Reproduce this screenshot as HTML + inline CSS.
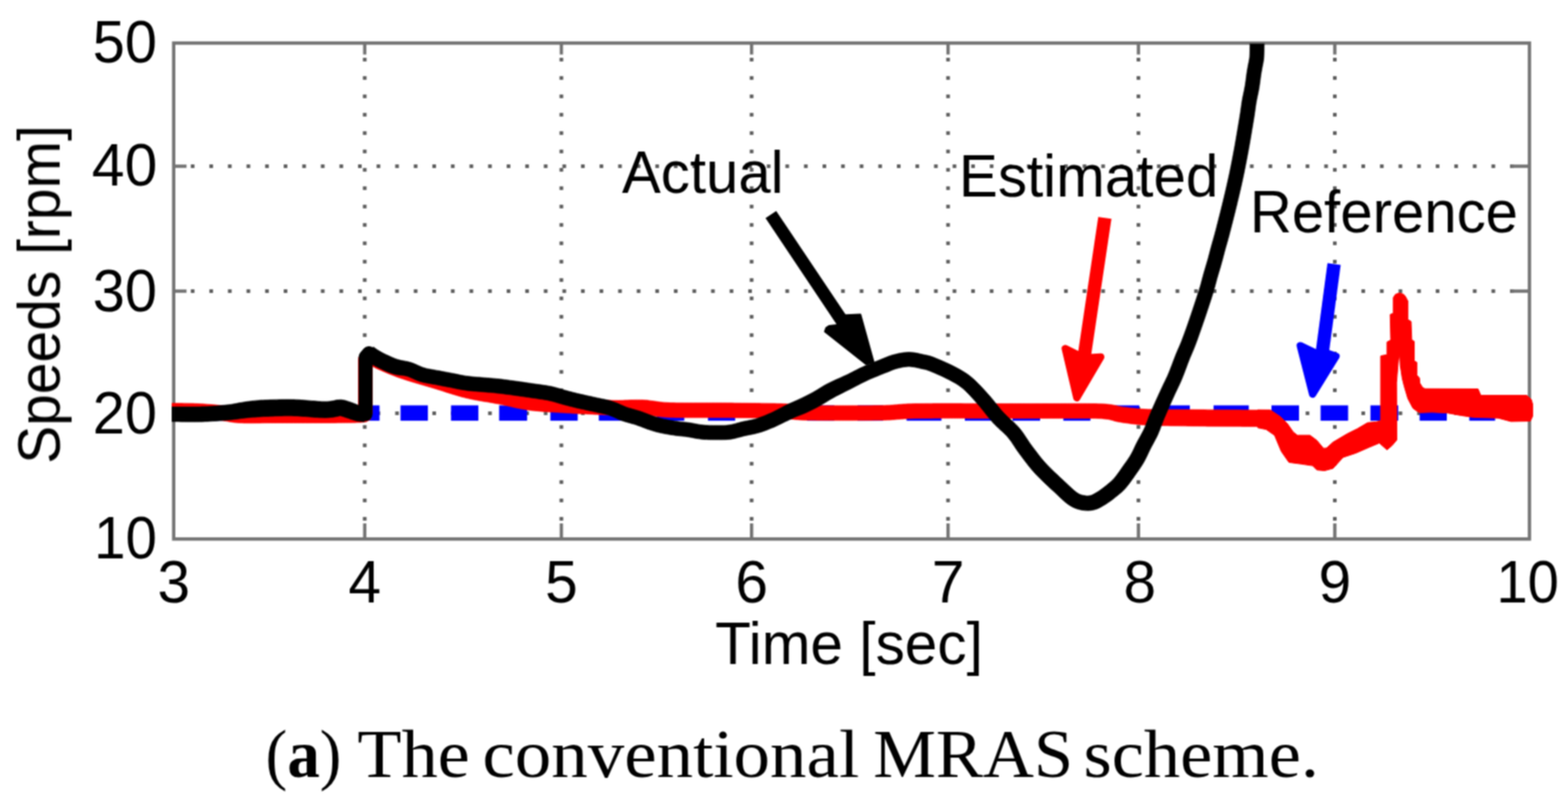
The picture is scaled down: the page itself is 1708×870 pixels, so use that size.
<!DOCTYPE html>
<html><head><meta charset="utf-8"><title>Speeds - conventional MRAS</title>
<style>html,body{margin:0;padding:0;background:#fff;}body{width:1708px;height:870px;overflow:hidden;}svg{display:block;}.sans{font-family:"Liberation Sans",Arial,sans-serif;}.serif{font-family:"Liberation Serif","Times New Roman",serif;}</style>
</head><body>
<svg width="1708" height="870" viewBox="0 0 1708 870">
<rect x="0" y="0" width="1708" height="870" fill="#fff"/>
<defs><clipPath id="ax"><rect x="187" y="47.4" width="1483" height="540"/></clipPath><filter id="soft" x="-2%" y="-2%" width="104%" height="104%" color-interpolation-filters="sRGB"><feConvolveMatrix order="3" kernelMatrix="1 2 1 2 4 2 1 2 1" divisor="16" edgeMode="duplicate"/></filter></defs>
<g filter="url(#soft)">
<g fill="#5f5f5f">
<rect x="395.3" y="62.9" width="4" height="4"/>
<rect x="395.3" y="82.9" width="4" height="4"/>
<rect x="395.3" y="102.9" width="4" height="4"/>
<rect x="395.3" y="122.9" width="4" height="4"/>
<rect x="395.3" y="142.9" width="4" height="4"/>
<rect x="395.3" y="162.9" width="4" height="4"/>
<rect x="395.3" y="182.9" width="4" height="4"/>
<rect x="395.3" y="202.9" width="4" height="4"/>
<rect x="395.3" y="222.9" width="4" height="4"/>
<rect x="395.3" y="242.9" width="4" height="4"/>
<rect x="395.3" y="262.9" width="4" height="4"/>
<rect x="395.3" y="282.9" width="4" height="4"/>
<rect x="395.3" y="302.9" width="4" height="4"/>
<rect x="395.3" y="322.9" width="4" height="4"/>
<rect x="395.3" y="342.9" width="4" height="4"/>
<rect x="395.3" y="362.9" width="4" height="4"/>
<rect x="395.3" y="382.9" width="4" height="4"/>
<rect x="395.3" y="402.9" width="4" height="4"/>
<rect x="395.3" y="422.9" width="4" height="4"/>
<rect x="395.3" y="442.9" width="4" height="4"/>
<rect x="395.3" y="462.9" width="4" height="4"/>
<rect x="395.3" y="482.9" width="4" height="4"/>
<rect x="395.3" y="502.9" width="4" height="4"/>
<rect x="395.3" y="522.9" width="4" height="4"/>
<rect x="395.3" y="542.9" width="4" height="4"/>
<rect x="395.3" y="562.9" width="4" height="4"/>
<rect x="609.5" y="62.9" width="4" height="4"/>
<rect x="609.5" y="82.9" width="4" height="4"/>
<rect x="609.5" y="102.9" width="4" height="4"/>
<rect x="609.5" y="122.9" width="4" height="4"/>
<rect x="609.5" y="142.9" width="4" height="4"/>
<rect x="609.5" y="162.9" width="4" height="4"/>
<rect x="609.5" y="182.9" width="4" height="4"/>
<rect x="609.5" y="202.9" width="4" height="4"/>
<rect x="609.5" y="222.9" width="4" height="4"/>
<rect x="609.5" y="242.9" width="4" height="4"/>
<rect x="609.5" y="262.9" width="4" height="4"/>
<rect x="609.5" y="282.9" width="4" height="4"/>
<rect x="609.5" y="302.9" width="4" height="4"/>
<rect x="609.5" y="322.9" width="4" height="4"/>
<rect x="609.5" y="342.9" width="4" height="4"/>
<rect x="609.5" y="362.9" width="4" height="4"/>
<rect x="609.5" y="382.9" width="4" height="4"/>
<rect x="609.5" y="402.9" width="4" height="4"/>
<rect x="609.5" y="422.9" width="4" height="4"/>
<rect x="609.5" y="442.9" width="4" height="4"/>
<rect x="609.5" y="462.9" width="4" height="4"/>
<rect x="609.5" y="482.9" width="4" height="4"/>
<rect x="609.5" y="502.9" width="4" height="4"/>
<rect x="609.5" y="522.9" width="4" height="4"/>
<rect x="609.5" y="542.9" width="4" height="4"/>
<rect x="609.5" y="562.9" width="4" height="4"/>
<rect x="816.7" y="62.9" width="4" height="4"/>
<rect x="816.7" y="82.9" width="4" height="4"/>
<rect x="816.7" y="102.9" width="4" height="4"/>
<rect x="816.7" y="122.9" width="4" height="4"/>
<rect x="816.7" y="142.9" width="4" height="4"/>
<rect x="816.7" y="162.9" width="4" height="4"/>
<rect x="816.7" y="182.9" width="4" height="4"/>
<rect x="816.7" y="202.9" width="4" height="4"/>
<rect x="816.7" y="222.9" width="4" height="4"/>
<rect x="816.7" y="242.9" width="4" height="4"/>
<rect x="816.7" y="262.9" width="4" height="4"/>
<rect x="816.7" y="282.9" width="4" height="4"/>
<rect x="816.7" y="302.9" width="4" height="4"/>
<rect x="816.7" y="322.9" width="4" height="4"/>
<rect x="816.7" y="342.9" width="4" height="4"/>
<rect x="816.7" y="362.9" width="4" height="4"/>
<rect x="816.7" y="382.9" width="4" height="4"/>
<rect x="816.7" y="402.9" width="4" height="4"/>
<rect x="816.7" y="422.9" width="4" height="4"/>
<rect x="816.7" y="442.9" width="4" height="4"/>
<rect x="816.7" y="462.9" width="4" height="4"/>
<rect x="816.7" y="482.9" width="4" height="4"/>
<rect x="816.7" y="502.9" width="4" height="4"/>
<rect x="816.7" y="522.9" width="4" height="4"/>
<rect x="816.7" y="542.9" width="4" height="4"/>
<rect x="816.7" y="562.9" width="4" height="4"/>
<rect x="1030.7" y="62.9" width="4" height="4"/>
<rect x="1030.7" y="82.9" width="4" height="4"/>
<rect x="1030.7" y="102.9" width="4" height="4"/>
<rect x="1030.7" y="122.9" width="4" height="4"/>
<rect x="1030.7" y="142.9" width="4" height="4"/>
<rect x="1030.7" y="162.9" width="4" height="4"/>
<rect x="1030.7" y="182.9" width="4" height="4"/>
<rect x="1030.7" y="202.9" width="4" height="4"/>
<rect x="1030.7" y="222.9" width="4" height="4"/>
<rect x="1030.7" y="242.9" width="4" height="4"/>
<rect x="1030.7" y="262.9" width="4" height="4"/>
<rect x="1030.7" y="282.9" width="4" height="4"/>
<rect x="1030.7" y="302.9" width="4" height="4"/>
<rect x="1030.7" y="322.9" width="4" height="4"/>
<rect x="1030.7" y="342.9" width="4" height="4"/>
<rect x="1030.7" y="362.9" width="4" height="4"/>
<rect x="1030.7" y="382.9" width="4" height="4"/>
<rect x="1030.7" y="402.9" width="4" height="4"/>
<rect x="1030.7" y="422.9" width="4" height="4"/>
<rect x="1030.7" y="442.9" width="4" height="4"/>
<rect x="1030.7" y="462.9" width="4" height="4"/>
<rect x="1030.7" y="482.9" width="4" height="4"/>
<rect x="1030.7" y="502.9" width="4" height="4"/>
<rect x="1030.7" y="522.9" width="4" height="4"/>
<rect x="1030.7" y="542.9" width="4" height="4"/>
<rect x="1030.7" y="562.9" width="4" height="4"/>
<rect x="1238.1" y="62.9" width="4" height="4"/>
<rect x="1238.1" y="82.9" width="4" height="4"/>
<rect x="1238.1" y="102.9" width="4" height="4"/>
<rect x="1238.1" y="122.9" width="4" height="4"/>
<rect x="1238.1" y="142.9" width="4" height="4"/>
<rect x="1238.1" y="162.9" width="4" height="4"/>
<rect x="1238.1" y="182.9" width="4" height="4"/>
<rect x="1238.1" y="202.9" width="4" height="4"/>
<rect x="1238.1" y="222.9" width="4" height="4"/>
<rect x="1238.1" y="242.9" width="4" height="4"/>
<rect x="1238.1" y="262.9" width="4" height="4"/>
<rect x="1238.1" y="282.9" width="4" height="4"/>
<rect x="1238.1" y="302.9" width="4" height="4"/>
<rect x="1238.1" y="322.9" width="4" height="4"/>
<rect x="1238.1" y="342.9" width="4" height="4"/>
<rect x="1238.1" y="362.9" width="4" height="4"/>
<rect x="1238.1" y="382.9" width="4" height="4"/>
<rect x="1238.1" y="402.9" width="4" height="4"/>
<rect x="1238.1" y="422.9" width="4" height="4"/>
<rect x="1238.1" y="442.9" width="4" height="4"/>
<rect x="1238.1" y="462.9" width="4" height="4"/>
<rect x="1238.1" y="482.9" width="4" height="4"/>
<rect x="1238.1" y="502.9" width="4" height="4"/>
<rect x="1238.1" y="522.9" width="4" height="4"/>
<rect x="1238.1" y="542.9" width="4" height="4"/>
<rect x="1238.1" y="562.9" width="4" height="4"/>
<rect x="1452" y="62.9" width="4" height="4"/>
<rect x="1452" y="82.9" width="4" height="4"/>
<rect x="1452" y="102.9" width="4" height="4"/>
<rect x="1452" y="122.9" width="4" height="4"/>
<rect x="1452" y="142.9" width="4" height="4"/>
<rect x="1452" y="162.9" width="4" height="4"/>
<rect x="1452" y="182.9" width="4" height="4"/>
<rect x="1452" y="202.9" width="4" height="4"/>
<rect x="1452" y="222.9" width="4" height="4"/>
<rect x="1452" y="242.9" width="4" height="4"/>
<rect x="1452" y="262.9" width="4" height="4"/>
<rect x="1452" y="282.9" width="4" height="4"/>
<rect x="1452" y="302.9" width="4" height="4"/>
<rect x="1452" y="322.9" width="4" height="4"/>
<rect x="1452" y="342.9" width="4" height="4"/>
<rect x="1452" y="362.9" width="4" height="4"/>
<rect x="1452" y="382.9" width="4" height="4"/>
<rect x="1452" y="402.9" width="4" height="4"/>
<rect x="1452" y="422.9" width="4" height="4"/>
<rect x="1452" y="442.9" width="4" height="4"/>
<rect x="1452" y="462.9" width="4" height="4"/>
<rect x="1452" y="482.9" width="4" height="4"/>
<rect x="1452" y="502.9" width="4" height="4"/>
<rect x="1452" y="522.9" width="4" height="4"/>
<rect x="1452" y="542.9" width="4" height="4"/>
<rect x="1452" y="562.9" width="4" height="4"/>
<rect x="207.84" y="448" width="4" height="4"/>
<rect x="228.08" y="448" width="4" height="4"/>
<rect x="248.32" y="448" width="4" height="4"/>
<rect x="268.56" y="448" width="4" height="4"/>
<rect x="288.8" y="448" width="4" height="4"/>
<rect x="309.04" y="448" width="4" height="4"/>
<rect x="329.28" y="448" width="4" height="4"/>
<rect x="349.52" y="448" width="4" height="4"/>
<rect x="369.76" y="448" width="4" height="4"/>
<rect x="390" y="448" width="4" height="4"/>
<rect x="410.24" y="448" width="4" height="4"/>
<rect x="430.48" y="448" width="4" height="4"/>
<rect x="450.72" y="448" width="4" height="4"/>
<rect x="470.96" y="448" width="4" height="4"/>
<rect x="491.2" y="448" width="4" height="4"/>
<rect x="511.44" y="448" width="4" height="4"/>
<rect x="531.68" y="448" width="4" height="4"/>
<rect x="551.92" y="448" width="4" height="4"/>
<rect x="572.16" y="448" width="4" height="4"/>
<rect x="592.4" y="448" width="4" height="4"/>
<rect x="612.64" y="448" width="4" height="4"/>
<rect x="632.88" y="448" width="4" height="4"/>
<rect x="653.12" y="448" width="4" height="4"/>
<rect x="673.36" y="448" width="4" height="4"/>
<rect x="693.6" y="448" width="4" height="4"/>
<rect x="713.84" y="448" width="4" height="4"/>
<rect x="734.08" y="448" width="4" height="4"/>
<rect x="754.32" y="448" width="4" height="4"/>
<rect x="774.56" y="448" width="4" height="4"/>
<rect x="794.8" y="448" width="4" height="4"/>
<rect x="815.04" y="448" width="4" height="4"/>
<rect x="835.28" y="448" width="4" height="4"/>
<rect x="855.52" y="448" width="4" height="4"/>
<rect x="875.76" y="448" width="4" height="4"/>
<rect x="896" y="448" width="4" height="4"/>
<rect x="916.24" y="448" width="4" height="4"/>
<rect x="936.48" y="448" width="4" height="4"/>
<rect x="956.72" y="448" width="4" height="4"/>
<rect x="976.96" y="448" width="4" height="4"/>
<rect x="997.2" y="448" width="4" height="4"/>
<rect x="1017.44" y="448" width="4" height="4"/>
<rect x="1037.68" y="448" width="4" height="4"/>
<rect x="1057.92" y="448" width="4" height="4"/>
<rect x="1078.16" y="448" width="4" height="4"/>
<rect x="1098.4" y="448" width="4" height="4"/>
<rect x="1118.64" y="448" width="4" height="4"/>
<rect x="1138.88" y="448" width="4" height="4"/>
<rect x="1159.12" y="448" width="4" height="4"/>
<rect x="1179.36" y="448" width="4" height="4"/>
<rect x="1199.6" y="448" width="4" height="4"/>
<rect x="1219.84" y="448" width="4" height="4"/>
<rect x="1240.08" y="448" width="4" height="4"/>
<rect x="1260.32" y="448" width="4" height="4"/>
<rect x="1280.56" y="448" width="4" height="4"/>
<rect x="1300.8" y="448" width="4" height="4"/>
<rect x="1321.04" y="448" width="4" height="4"/>
<rect x="1341.28" y="448" width="4" height="4"/>
<rect x="1361.52" y="448" width="4" height="4"/>
<rect x="1381.76" y="448" width="4" height="4"/>
<rect x="1402" y="448" width="4" height="4"/>
<rect x="1422.24" y="448" width="4" height="4"/>
<rect x="1442.48" y="448" width="4" height="4"/>
<rect x="1462.72" y="448" width="4" height="4"/>
<rect x="1482.96" y="448" width="4" height="4"/>
<rect x="1503.2" y="448" width="4" height="4"/>
<rect x="1523.44" y="448" width="4" height="4"/>
<rect x="1543.68" y="448" width="4" height="4"/>
<rect x="1563.92" y="448" width="4" height="4"/>
<rect x="1584.16" y="448" width="4" height="4"/>
<rect x="1604.4" y="448" width="4" height="4"/>
<rect x="1624.64" y="448" width="4" height="4"/>
<rect x="1644.88" y="448" width="4" height="4"/>
<rect x="207.84" y="315" width="4" height="4"/>
<rect x="228.08" y="315" width="4" height="4"/>
<rect x="248.32" y="315" width="4" height="4"/>
<rect x="268.56" y="315" width="4" height="4"/>
<rect x="288.8" y="315" width="4" height="4"/>
<rect x="309.04" y="315" width="4" height="4"/>
<rect x="329.28" y="315" width="4" height="4"/>
<rect x="349.52" y="315" width="4" height="4"/>
<rect x="369.76" y="315" width="4" height="4"/>
<rect x="390" y="315" width="4" height="4"/>
<rect x="410.24" y="315" width="4" height="4"/>
<rect x="430.48" y="315" width="4" height="4"/>
<rect x="450.72" y="315" width="4" height="4"/>
<rect x="470.96" y="315" width="4" height="4"/>
<rect x="491.2" y="315" width="4" height="4"/>
<rect x="511.44" y="315" width="4" height="4"/>
<rect x="531.68" y="315" width="4" height="4"/>
<rect x="551.92" y="315" width="4" height="4"/>
<rect x="572.16" y="315" width="4" height="4"/>
<rect x="592.4" y="315" width="4" height="4"/>
<rect x="612.64" y="315" width="4" height="4"/>
<rect x="632.88" y="315" width="4" height="4"/>
<rect x="653.12" y="315" width="4" height="4"/>
<rect x="673.36" y="315" width="4" height="4"/>
<rect x="693.6" y="315" width="4" height="4"/>
<rect x="713.84" y="315" width="4" height="4"/>
<rect x="734.08" y="315" width="4" height="4"/>
<rect x="754.32" y="315" width="4" height="4"/>
<rect x="774.56" y="315" width="4" height="4"/>
<rect x="794.8" y="315" width="4" height="4"/>
<rect x="815.04" y="315" width="4" height="4"/>
<rect x="835.28" y="315" width="4" height="4"/>
<rect x="855.52" y="315" width="4" height="4"/>
<rect x="875.76" y="315" width="4" height="4"/>
<rect x="896" y="315" width="4" height="4"/>
<rect x="916.24" y="315" width="4" height="4"/>
<rect x="936.48" y="315" width="4" height="4"/>
<rect x="956.72" y="315" width="4" height="4"/>
<rect x="976.96" y="315" width="4" height="4"/>
<rect x="997.2" y="315" width="4" height="4"/>
<rect x="1017.44" y="315" width="4" height="4"/>
<rect x="1037.68" y="315" width="4" height="4"/>
<rect x="1057.92" y="315" width="4" height="4"/>
<rect x="1078.16" y="315" width="4" height="4"/>
<rect x="1098.4" y="315" width="4" height="4"/>
<rect x="1118.64" y="315" width="4" height="4"/>
<rect x="1138.88" y="315" width="4" height="4"/>
<rect x="1159.12" y="315" width="4" height="4"/>
<rect x="1179.36" y="315" width="4" height="4"/>
<rect x="1199.6" y="315" width="4" height="4"/>
<rect x="1219.84" y="315" width="4" height="4"/>
<rect x="1240.08" y="315" width="4" height="4"/>
<rect x="1260.32" y="315" width="4" height="4"/>
<rect x="1280.56" y="315" width="4" height="4"/>
<rect x="1300.8" y="315" width="4" height="4"/>
<rect x="1321.04" y="315" width="4" height="4"/>
<rect x="1341.28" y="315" width="4" height="4"/>
<rect x="1361.52" y="315" width="4" height="4"/>
<rect x="1381.76" y="315" width="4" height="4"/>
<rect x="1402" y="315" width="4" height="4"/>
<rect x="1422.24" y="315" width="4" height="4"/>
<rect x="1442.48" y="315" width="4" height="4"/>
<rect x="1462.72" y="315" width="4" height="4"/>
<rect x="1482.96" y="315" width="4" height="4"/>
<rect x="1503.2" y="315" width="4" height="4"/>
<rect x="1523.44" y="315" width="4" height="4"/>
<rect x="1543.68" y="315" width="4" height="4"/>
<rect x="1563.92" y="315" width="4" height="4"/>
<rect x="1584.16" y="315" width="4" height="4"/>
<rect x="1604.4" y="315" width="4" height="4"/>
<rect x="1624.64" y="315" width="4" height="4"/>
<rect x="1644.88" y="315" width="4" height="4"/>
<rect x="207.84" y="179" width="4" height="4"/>
<rect x="228.08" y="179" width="4" height="4"/>
<rect x="248.32" y="179" width="4" height="4"/>
<rect x="268.56" y="179" width="4" height="4"/>
<rect x="288.8" y="179" width="4" height="4"/>
<rect x="309.04" y="179" width="4" height="4"/>
<rect x="329.28" y="179" width="4" height="4"/>
<rect x="349.52" y="179" width="4" height="4"/>
<rect x="369.76" y="179" width="4" height="4"/>
<rect x="390" y="179" width="4" height="4"/>
<rect x="410.24" y="179" width="4" height="4"/>
<rect x="430.48" y="179" width="4" height="4"/>
<rect x="450.72" y="179" width="4" height="4"/>
<rect x="470.96" y="179" width="4" height="4"/>
<rect x="491.2" y="179" width="4" height="4"/>
<rect x="511.44" y="179" width="4" height="4"/>
<rect x="531.68" y="179" width="4" height="4"/>
<rect x="551.92" y="179" width="4" height="4"/>
<rect x="572.16" y="179" width="4" height="4"/>
<rect x="592.4" y="179" width="4" height="4"/>
<rect x="612.64" y="179" width="4" height="4"/>
<rect x="632.88" y="179" width="4" height="4"/>
<rect x="653.12" y="179" width="4" height="4"/>
<rect x="673.36" y="179" width="4" height="4"/>
<rect x="693.6" y="179" width="4" height="4"/>
<rect x="713.84" y="179" width="4" height="4"/>
<rect x="734.08" y="179" width="4" height="4"/>
<rect x="754.32" y="179" width="4" height="4"/>
<rect x="774.56" y="179" width="4" height="4"/>
<rect x="794.8" y="179" width="4" height="4"/>
<rect x="815.04" y="179" width="4" height="4"/>
<rect x="835.28" y="179" width="4" height="4"/>
<rect x="855.52" y="179" width="4" height="4"/>
<rect x="875.76" y="179" width="4" height="4"/>
<rect x="896" y="179" width="4" height="4"/>
<rect x="916.24" y="179" width="4" height="4"/>
<rect x="936.48" y="179" width="4" height="4"/>
<rect x="956.72" y="179" width="4" height="4"/>
<rect x="976.96" y="179" width="4" height="4"/>
<rect x="997.2" y="179" width="4" height="4"/>
<rect x="1017.44" y="179" width="4" height="4"/>
<rect x="1037.68" y="179" width="4" height="4"/>
<rect x="1057.92" y="179" width="4" height="4"/>
<rect x="1078.16" y="179" width="4" height="4"/>
<rect x="1098.4" y="179" width="4" height="4"/>
<rect x="1118.64" y="179" width="4" height="4"/>
<rect x="1138.88" y="179" width="4" height="4"/>
<rect x="1159.12" y="179" width="4" height="4"/>
<rect x="1179.36" y="179" width="4" height="4"/>
<rect x="1199.6" y="179" width="4" height="4"/>
<rect x="1219.84" y="179" width="4" height="4"/>
<rect x="1240.08" y="179" width="4" height="4"/>
<rect x="1260.32" y="179" width="4" height="4"/>
<rect x="1280.56" y="179" width="4" height="4"/>
<rect x="1300.8" y="179" width="4" height="4"/>
<rect x="1321.04" y="179" width="4" height="4"/>
<rect x="1341.28" y="179" width="4" height="4"/>
<rect x="1361.52" y="179" width="4" height="4"/>
<rect x="1381.76" y="179" width="4" height="4"/>
<rect x="1402" y="179" width="4" height="4"/>
<rect x="1422.24" y="179" width="4" height="4"/>
<rect x="1442.48" y="179" width="4" height="4"/>
<rect x="1462.72" y="179" width="4" height="4"/>
<rect x="1482.96" y="179" width="4" height="4"/>
<rect x="1503.2" y="179" width="4" height="4"/>
<rect x="1523.44" y="179" width="4" height="4"/>
<rect x="1543.68" y="179" width="4" height="4"/>
<rect x="1563.92" y="179" width="4" height="4"/>
<rect x="1584.16" y="179" width="4" height="4"/>
<rect x="1604.4" y="179" width="4" height="4"/>
<rect x="1624.64" y="179" width="4" height="4"/>
<rect x="1644.88" y="179" width="4" height="4"/>
</g>
<g stroke="#737373" stroke-width="3.6" fill="none">
<rect x="189.2" y="46.9" width="1476.8" height="540"/>
<line x1="397.3" y1="586.9" x2="397.3" y2="569.9"/>
<line x1="397.3" y1="46.9" x2="397.3" y2="59.4"/>
<line x1="611.5" y1="586.9" x2="611.5" y2="569.9"/>
<line x1="611.5" y1="46.9" x2="611.5" y2="59.4"/>
<line x1="818.7" y1="586.9" x2="818.7" y2="569.9"/>
<line x1="818.7" y1="46.9" x2="818.7" y2="59.4"/>
<line x1="1032.7" y1="586.9" x2="1032.7" y2="569.9"/>
<line x1="1032.7" y1="46.9" x2="1032.7" y2="59.4"/>
<line x1="1240.1" y1="586.9" x2="1240.1" y2="569.9"/>
<line x1="1240.1" y1="46.9" x2="1240.1" y2="59.4"/>
<line x1="1454" y1="586.9" x2="1454" y2="569.9"/>
<line x1="1454" y1="46.9" x2="1454" y2="59.4"/>
<line x1="189.2" y1="450" x2="203.2" y2="450"/>
<line x1="1666" y1="450" x2="1646" y2="450"/>
<line x1="189.2" y1="317" x2="203.2" y2="317"/>
<line x1="1666" y1="317" x2="1646" y2="317"/>
<line x1="189.2" y1="181" x2="203.2" y2="181"/>
<line x1="1666" y1="181" x2="1646" y2="181"/>
</g>
<g clip-path="url(#ax)">
<g fill="#00f">
<rect x="187" y="441.4" width="9" height="16.7"/>
<rect x="220" y="441.4" width="30" height="16.7"/>
<rect x="275" y="441.4" width="30" height="16.7"/>
<rect x="329" y="441.4" width="30" height="16.7"/>
<rect x="383.4" y="441.4" width="30" height="16.7"/>
<rect x="436.3" y="441.4" width="29.8" height="16.7"/>
<rect x="491.3" y="441.4" width="29.8" height="16.7"/>
<rect x="543.7" y="441.4" width="30.5" height="16.7"/>
<rect x="599.5" y="441.4" width="29.8" height="16.7"/>
<rect x="652.3" y="441.4" width="30" height="16.7"/>
<rect x="715.4" y="441.4" width="30" height="16.7"/>
<rect x="771.2" y="441.4" width="29.6" height="16.7"/>
<rect x="828.2" y="441.4" width="30" height="16.7"/>
<rect x="879" y="441.4" width="29.8" height="16.7"/>
<rect x="934.1" y="441.4" width="27.8" height="16.7"/>
<rect x="987.5" y="441.4" width="38" height="16.7"/>
<rect x="1051" y="441.4" width="30" height="16.7"/>
<rect x="1103" y="441.4" width="30" height="16.7"/>
<rect x="1158.3" y="441.4" width="29.5" height="16.7"/>
<rect x="1213.8" y="441.4" width="27.2" height="16.7"/>
<rect x="1266.5" y="441.4" width="29.6" height="16.7"/>
<rect x="1321.9" y="441.4" width="38.4" height="16.7"/>
<rect x="1385" y="441.4" width="30" height="16.7"/>
<rect x="1438.5" y="441.4" width="30" height="16.7"/>
<rect x="1492.8" y="441.4" width="30.3" height="16.7"/>
<rect x="1546.4" y="441.4" width="29.6" height="16.7"/>
<rect x="1600.5" y="441.4" width="28.1" height="16.7"/>
<rect x="1655" y="441.4" width="11" height="16.7"/>
</g>
<path d="M398,451 L398,392 L404,389" fill="none" stroke="#f00" stroke-width="16" stroke-linejoin="round"/>
<g fill="#f00" stroke="#f00" stroke-width="0.6" stroke-linejoin="round">
<polygon points="186.89,455 188.41,455.02 190.35,455.04 192.63,455.06 195.17,455.08 197.92,455.11 200.79,455.14 203.73,455.19 206.65,455.24 209.49,455.31 212.18,455.39 214.63,455.49 217.2,455.62 219.74,455.77 222.26,455.94 224.75,456.12 227.22,456.32 229.66,456.53 232.07,456.74 234.46,456.97 236.82,457.21 239.08,457.45 241.67,457.77 244.01,458.14 246.35,458.56 248.81,459 251.49,459.46 254.47,459.88 257.82,460.23 261.53,460.49 263.76,460.58 265.98,460.65 268.27,460.69 270.62,460.71 273.04,460.72 275.51,460.72 278.04,460.7 280.63,460.67 283.26,460.64 285.95,460.61 288.68,460.58 291.45,460.55 294.27,460.52 297.12,460.51 300.01,460.5 302.23,460.5 304.54,460.5 306.92,460.5 309.35,460.51 311.83,460.51 314.36,460.52 316.92,460.52 319.51,460.52 322.12,460.53 324.74,460.53 327.37,460.53 330,460.54 332.61,460.54 335.21,460.54 337.79,460.54 340.33,460.53 342.84,460.53 345.3,460.52 347.7,460.51 350.04,460.5 352.96,460.48 355.93,460.46 358.94,460.44 361.97,460.42 364.99,460.4 367.99,460.37 370.95,460.34 373.84,460.31 376.64,460.28 379.35,460.25 381.92,460.21 384.35,460.17 386.62,460.13 388.7,460.09 390.59,460.04 392.64,459.97 398.94,459.36 404.25,456 391.75,446 396.31,443.58 391.36,444.03 390.17,444.05 388.35,444.09 386.32,444.13 384.08,444.17 381.68,444.21 379.13,444.25 376.45,444.28 373.66,444.31 370.79,444.34 367.84,444.37 364.86,444.4 361.84,444.42 358.83,444.44 355.83,444.47 352.86,444.48 349.96,444.5 347.63,444.51 345.24,444.52 342.8,444.53 340.31,444.53 337.77,444.54 335.21,444.54 332.61,444.54 330,444.54 327.38,444.53 324.76,444.53 322.14,444.53 319.53,444.52 316.94,444.52 314.38,444.52 311.86,444.51 309.37,444.51 306.94,444.5 304.56,444.5 302.24,444.5 299.99,444.5 297.05,444.51 294.15,444.52 291.3,444.55 288.5,444.58 285.75,444.61 283.07,444.64 280.46,444.67 277.91,444.7 275.43,444.72 273.04,444.72 270.73,444.72 268.5,444.69 266.37,444.65 264.33,444.59 262.47,444.51 259.19,444.29 256.42,444 253.93,443.64 251.57,443.25 249.19,442.81 246.66,442.36 243.9,441.93 240.92,441.55 238.45,441.29 236.02,441.05 233.56,440.81 231.06,440.59 228.53,440.37 225.97,440.17 223.37,439.98 220.74,439.8 218.07,439.65 215.37,439.51 212.75,439.4 209.93,439.31 206.99,439.24 203.99,439.19 201,439.14 198.09,439.11 195.32,439.08 192.77,439.06 190.5,439.04 188.6,439.02 187.11,439"/>
<polygon points="400.31,396.1 401.68,396.81 403.55,397.81 405.88,399.04 408.58,400.42 411.59,401.88 414.76,403.31 416.94,404.26 419.17,405.21 421.51,406.19 423.97,407.2 426.57,408.24 429.3,409.3 432.19,410.38 435.23,411.47 438.43,412.58 440.63,413.3 442.9,414.04 445.26,414.78 447.68,415.52 450.17,416.28 452.7,417.03 455.27,417.79 457.86,418.55 460.46,419.31 463.06,420.07 465.65,420.83 468.21,421.58 470.73,422.33 473.19,423.06 475.62,423.8 478.05,424.55 480.49,425.32 482.94,426.09 485.41,426.88 487.88,427.66 490.37,428.44 492.87,429.22 495.38,429.98 497.91,430.73 500.44,431.46 502.99,432.16 505.55,432.84 508.13,433.48 510.91,434.12 513.68,434.72 516.45,435.27 519.19,435.79 521.92,436.28 524.63,436.74 527.31,437.19 529.97,437.62 532.61,438.06 535.23,438.49 537.81,438.93 540.36,439.38 542.88,439.86 545.37,440.35 547.84,440.87 550.31,441.41 552.77,441.96 555.25,442.53 557.75,443.09 560.28,443.66 562.85,444.21 565.45,444.76 568.11,445.27 570.82,445.76 573.59,446.22 576.42,446.63 578.94,446.95 581.51,447.23 584.12,447.49 586.75,447.73 589.41,447.95 592.07,448.14 594.74,448.32 597.39,448.49 600.01,448.65 602.59,448.79 605.12,448.94 607.59,449.07 609.98,449.21 612.28,449.34 614.49,449.48 617.4,449.67 620.18,449.84 622.86,450 625.44,450.15 627.94,450.29 630.4,450.41 632.82,450.54 635.24,450.65 637.67,450.77 640.13,450.88 642.64,450.99 645.18,451.11 647.71,451.22 650.24,451.34 652.79,451.46 655.34,451.57 657.9,451.67 660.47,451.76 663.06,451.85 665.66,451.91 668.29,451.97 670.95,452 673.67,452 676.38,451.95 679.07,451.87 681.73,451.78 684.37,451.67 686.98,451.57 689.57,451.48 692.13,451.42 694.66,451.4 697.17,451.42 699.66,451.49 701.8,451.62 703.81,451.79 705.76,452.01 707.73,452.27 709.77,452.56 711.94,452.87 714.27,453.19 716.81,453.52 719.58,453.82 722.63,454.09 725.99,454.32 729.66,454.49 731.69,454.56 733.76,454.62 735.91,454.66 738.14,454.7 740.45,454.73 742.82,454.76 745.26,454.77 747.75,454.79 750.29,454.79 752.87,454.8 755.49,454.8 758.14,454.79 760.81,454.79 763.5,454.78 766.2,454.78 768.91,454.77 771.61,454.76 774.31,454.76 776.99,454.76 779.65,454.76 782.28,454.76 784.87,454.77 787.43,454.78 789.94,454.8 792.46,454.82 795.04,454.84 797.65,454.86 800.29,454.88 802.96,454.9 805.65,454.92 808.35,454.94 811.05,454.96 813.76,454.98 816.45,455 819.14,455.02 821.8,455.04 824.44,455.07 827.04,455.1 829.6,455.12 832.12,455.15 834.58,455.19 836.99,455.22 839.32,455.26 841.58,455.3 843.77,455.35 845.86,455.39 847.86,455.44 849.73,455.5 853.03,455.62 855.64,455.76 857.75,455.93 859.53,456.1 861.16,456.29 862.81,456.49 864.63,456.7 866.71,456.9 869.16,457.09 872.08,457.26 875.6,457.4 879.82,457.5 881.66,457.53 883.59,457.56 885.64,457.58 887.8,457.61 890.06,457.63 892.41,457.65 894.85,457.67 897.37,457.69 899.96,457.7 902.62,457.71 905.32,457.73 908.07,457.73 910.86,457.74 913.68,457.75 916.52,457.75 919.38,457.75 922.23,457.75 925.09,457.75 927.93,457.74 930.75,457.73 933.55,457.73 936.31,457.71 939.03,457.7 941.69,457.69 944.29,457.67 946.82,457.65 949.28,457.63 951.65,457.61 953.93,457.58 956.11,457.56 958.18,457.53 960.15,457.5 963.7,457.42 966.8,457.33 969.51,457.21 971.9,457.08 974.03,456.93 975.96,456.78 977.75,456.62 979.47,456.47 981.18,456.32 982.97,456.17 984.93,456.03 987.15,455.89 989.69,455.77 992.65,455.66 996.1,455.57 1000.13,455.5 1001.9,455.48 1003.8,455.45 1005.8,455.44 1007.9,455.42 1010.09,455.4 1012.36,455.39 1014.72,455.38 1017.15,455.37 1019.64,455.36 1022.2,455.36 1024.82,455.36 1027.49,455.35 1030.2,455.35 1032.95,455.35 1035.74,455.35 1038.55,455.36 1041.39,455.36 1044.24,455.36 1047.11,455.37 1049.98,455.37 1052.86,455.38 1055.72,455.39 1058.58,455.4 1061.42,455.4 1064.23,455.41 1067.02,455.42 1069.78,455.43 1072.5,455.44 1075.17,455.45 1077.79,455.45 1080.35,455.46 1082.86,455.47 1085.29,455.47 1087.66,455.48 1089.94,455.49 1092.14,455.49 1094.26,455.49 1096.27,455.5 1098.19,455.5 1100,455.5 1104.11,455.5 1107.74,455.5 1110.93,455.5 1113.76,455.49 1116.27,455.49 1118.53,455.49 1120.59,455.48 1122.51,455.48 1124.35,455.48 1126.17,455.48 1128.04,455.48 1129.99,455.48 1132.11,455.48 1134.44,455.49 1137.04,455.49 1139.98,455.5 1142.14,455.5 1144.43,455.5 1146.82,455.5 1149.31,455.49 1151.88,455.48 1154.52,455.47 1157.21,455.46 1159.96,455.45 1162.73,455.44 1165.53,455.43 1168.34,455.42 1171.14,455.42 1173.92,455.42 1176.67,455.42 1179.38,455.43 1182.03,455.44 1184.61,455.45 1187.11,455.48 1189.52,455.51 1191.81,455.55 1193.99,455.6 1196.02,455.65 1197.9,455.72 1199.51,455.79 1203.82,456.16 1206.9,456.57 1209.17,457.02 1211.01,457.48 1212.84,458.02 1215.01,458.63 1217.69,459.26 1220.78,459.81 1223.12,460.14 1225.3,460.46 1227.5,460.77 1229.75,461.09 1232.08,461.4 1234.54,461.7 1237.14,461.98 1239.91,462.25 1242.89,462.51 1246.12,462.74 1249.59,462.95 1251.64,463.05 1253.72,463.15 1255.85,463.23 1258.03,463.31 1260.25,463.38 1262.53,463.44 1264.87,463.49 1267.25,463.54 1269.68,463.58 1272.17,463.62 1274.71,463.66 1277.3,463.69 1279.94,463.73 1282.63,463.76 1285.38,463.8 1288.18,463.83 1291.03,463.87 1293.94,463.91 1296.9,463.95 1299.92,464 1302.17,464.02 1304.56,464.04 1307.07,464.06 1309.69,464.09 1312.4,464.11 1315.2,464.13 1318.07,464.15 1321,464.17 1323.98,464.19 1326.98,464.21 1330.01,464.23 1333.04,464.25 1336.06,464.27 1339.07,464.29 1342.04,464.31 1344.97,464.33 1347.84,464.35 1350.64,464.37 1353.36,464.38 1355.98,464.4 1358.49,464.41 1360.88,464.43 1363.14,464.44 1365.24,464.46 1367.19,464.47 1368.96,464.48 1370.55,464.49 1371.94,464.5 1372.06,446.5 1370.67,446.49 1369.08,446.48 1367.3,446.47 1365.36,446.46 1363.25,446.44 1360.99,446.43 1358.6,446.42 1356.09,446.4 1353.47,446.38 1350.75,446.37 1347.95,446.35 1345.08,446.33 1342.16,446.31 1339.18,446.29 1336.18,446.27 1333.16,446.25 1330.13,446.23 1327.1,446.21 1324.1,446.19 1321.13,446.17 1318.21,446.15 1315.34,446.13 1312.55,446.11 1309.83,446.09 1307.22,446.06 1304.72,446.04 1302.33,446.02 1300.08,446 1297.06,445.99 1294.08,445.99 1291.16,445.98 1288.3,445.98 1285.49,445.98 1282.75,445.98 1280.06,445.98 1277.42,445.98 1274.85,445.97 1272.33,445.97 1269.87,445.96 1267.47,445.95 1265.13,445.93 1262.85,445.91 1260.62,445.88 1258.45,445.85 1256.35,445.81 1254.3,445.77 1252.31,445.71 1250.41,445.65 1247.09,445.51 1244.08,445.35 1241.32,445.17 1238.76,444.97 1236.36,444.74 1234.08,444.51 1231.88,444.26 1229.72,444 1227.56,443.73 1225.35,443.45 1223.22,443.19 1220.76,442.85 1218.93,442.48 1217.12,442.04 1214.99,441.5 1212.37,440.94 1209.16,440.44 1205.24,440.05 1200.49,439.81 1198.52,439.73 1196.51,439.66 1194.38,439.6 1192.12,439.55 1189.76,439.51 1187.29,439.48 1184.74,439.45 1182.12,439.44 1179.43,439.43 1176.69,439.42 1173.92,439.42 1171.11,439.42 1168.3,439.42 1165.48,439.43 1162.68,439.44 1159.89,439.45 1157.15,439.46 1154.45,439.47 1151.82,439.48 1149.26,439.49 1146.79,439.5 1144.41,439.5 1142.16,439.5 1140.02,439.5 1137.08,439.49 1134.47,439.49 1132.13,439.48 1130.01,439.48 1128.04,439.48 1126.17,439.48 1124.34,439.48 1122.49,439.48 1120.56,439.48 1118.5,439.49 1116.25,439.49 1113.74,439.49 1110.92,439.5 1107.73,439.5 1104.11,439.5 1100,439.5 1098.2,439.5 1096.29,439.5 1094.28,439.49 1092.18,439.49 1089.98,439.49 1087.7,439.48 1085.34,439.47 1082.9,439.47 1080.4,439.46 1077.84,439.45 1075.22,439.45 1072.54,439.44 1069.83,439.43 1067.07,439.42 1064.28,439.41 1061.46,439.4 1058.62,439.4 1055.76,439.39 1052.89,439.38 1050.02,439.38 1047.14,439.37 1044.27,439.36 1041.41,439.36 1038.57,439.36 1035.75,439.35 1032.95,439.35 1030.2,439.35 1027.47,439.35 1024.8,439.36 1022.17,439.36 1019.6,439.36 1017.09,439.37 1014.65,439.38 1012.28,439.39 1009.99,439.4 1007.78,439.42 1005.66,439.44 1003.64,439.46 1001.71,439.48 999.87,439.5 995.75,439.58 992.15,439.67 989.02,439.79 986.29,439.92 983.89,440.06 981.75,440.21 979.82,440.37 978.03,440.53 976.33,440.69 974.63,440.84 972.85,440.98 970.92,441.11 968.73,441.23 966.21,441.34 963.28,441.43 959.85,441.5 957.95,441.53 955.9,441.56 953.75,441.59 951.49,441.61 949.14,441.63 946.7,441.65 944.18,441.67 941.59,441.69 938.94,441.7 936.24,441.71 933.49,441.73 930.71,441.73 927.9,441.74 925.07,441.75 922.22,441.75 919.38,441.75 916.53,441.75 913.7,441.75 910.9,441.74 908.12,441.73 905.38,441.73 902.69,441.71 900.05,441.7 897.47,441.69 894.97,441.67 892.54,441.65 890.21,441.63 887.97,441.61 885.83,441.59 883.81,441.56 881.91,441.53 880.18,441.5 876.09,441.4 872.83,441.28 870.22,441.13 868.1,440.96 866.32,440.79 864.69,440.6 863.03,440.4 861.21,440.19 859.12,439.99 856.68,439.8 853.76,439.64 850.27,439.5 848.29,439.45 846.24,439.4 844.11,439.35 841.89,439.3 839.6,439.26 837.23,439.23 834.81,439.19 832.32,439.16 829.79,439.13 827.21,439.1 824.6,439.07 821.95,439.04 819.28,439.02 816.58,439 813.88,438.98 811.17,438.96 808.46,438.94 805.76,438.92 803.07,438.9 800.4,438.88 797.76,438.86 795.16,438.84 792.59,438.82 790.06,438.8 787.52,438.78 784.94,438.77 782.31,438.76 779.66,438.76 776.98,438.76 774.29,438.76 771.58,438.76 768.87,438.77 766.16,438.78 763.46,438.78 760.78,438.79 758.11,438.79 755.48,438.8 752.88,438.8 750.32,438.79 747.81,438.79 745.35,438.77 742.96,438.76 740.63,438.73 738.39,438.7 736.22,438.67 734.14,438.62 732.17,438.57 730.34,438.51 726.9,438.35 723.88,438.14 721.15,437.9 718.68,437.63 716.37,437.33 714.19,437.03 712.05,436.72 709.9,436.41 707.69,436.13 705.38,435.87 702.94,435.66 700.34,435.51 697.47,435.42 694.65,435.4 691.86,435.43 689.11,435.49 686.41,435.58 683.74,435.68 681.12,435.79 678.55,435.88 676.01,435.96 673.52,436 671.05,436 668.55,435.97 666.03,435.92 663.52,435.85 661.02,435.77 658.51,435.68 656,435.58 653.49,435.47 650.97,435.36 648.45,435.24 645.91,435.12 643.36,435.01 640.85,434.9 638.41,434.78 636,434.67 633.61,434.56 631.22,434.44 628.8,434.31 626.33,434.17 623.79,434.03 621.15,433.87 618.41,433.7 615.51,433.52 613.25,433.37 610.9,433.24 608.49,433.1 606.01,432.96 603.49,432.82 600.94,432.67 598.36,432.52 595.78,432.36 593.2,432.18 590.64,431.99 588.11,431.79 585.63,431.57 583.2,431.32 580.84,431.06 578.58,430.77 576.03,430.4 573.54,430 571.07,429.55 568.61,429.07 566.17,428.56 563.72,428.03 561.27,427.48 558.8,426.92 556.3,426.36 553.77,425.79 551.2,425.23 548.58,424.68 545.92,424.14 543.23,423.64 540.55,423.17 537.88,422.71 535.22,422.27 532.56,421.84 529.92,421.4 527.29,420.96 524.68,420.52 522.08,420.05 519.5,419.57 516.94,419.05 514.4,418.51 511.87,417.92 509.52,417.34 507.16,416.72 504.78,416.06 502.39,415.37 499.99,414.66 497.57,413.92 495.14,413.17 492.7,412.4 490.24,411.62 487.78,410.84 485.3,410.06 482.81,409.27 480.31,408.5 477.81,407.74 475.28,406.99 472.73,406.23 470.15,405.48 467.55,404.72 464.95,403.96 462.36,403.2 459.79,402.45 457.26,401.7 454.78,400.95 452.35,400.22 450.01,399.5 447.75,398.79 445.59,398.1 443.57,397.42 440.55,396.38 437.7,395.36 434.99,394.35 432.42,393.35 429.98,392.37 427.64,391.41 425.4,390.47 423.25,389.55 421.24,388.69 418.38,387.39 415.71,386.1 413.25,384.84 411.05,383.67 409.15,382.66 407.69,381.9"/>
</g>
<polygon points="1370,446.3 1383.8,446.4 1394.8,453.8 1402.2,461.1 1408.6,470.3 1413.2,474 1427,474 1434.4,479.5 1441.7,488.2 1445,487.9 1452,481.5 1467.6,472.3 1478.6,466.8 1489.7,460.3 1498.9,459.4 1504,458 1504,387.6 1510.9,386.2 1510.9,372.4 1515,370.3 1514.3,342.5 1517.8,341 1517.8,324 1520,320.5 1524.5,319 1529,320.5 1531,323 1533.6,328 1533.6,348 1537,350 1537.8,370 1540.5,371.7 1540.5,393 1543.3,394.5 1543.3,408.3 1546.2,411.7 1546.5,417 1549.5,421.7 1552,423.3 1610,423.5 1613,430.5 1663,430.5 1668,435 1670,442 1670,452 1667,458.5 1645.8,458.9 1632,455.2 1604.4,454.3 1591.5,452.4 1576.8,449.7 1560,448.8 1547,449.3 1544.7,448.6 1539.1,444.5 1533.6,434.1 1529.5,420.3 1527.4,411.7 1525.3,398 1524.7,387.6 1523.3,391 1521.2,416.9 1521.5,479 1516.3,485.2 1510.8,489.8 1502.5,482.4 1491.5,487 1476.8,493.4 1463,498 1452,510 1442.8,512.5 1434.4,511.7 1429.8,507.1 1417.8,505.3 1404,503.4 1395.7,491.5 1388.4,474 1379.2,467.6 1370,465.7" fill="#f00" stroke="#f00" stroke-width="1" stroke-linejoin="round"/>
<g fill="#000" stroke="#000" stroke-width="0.6" stroke-linejoin="round">
<polygon points="186.97,459 188.42,459.01 190.23,459.03 192.36,459.06 194.77,459.1 197.4,459.13 200.19,459.17 203.1,459.2 206.08,459.22 209.07,459.24 212.03,459.24 214.92,459.22 217.67,459.18 220.26,459.13 223.15,459.03 226.02,458.92 228.87,458.78 231.69,458.62 234.47,458.45 237.2,458.26 239.87,458.07 242.48,457.86 245.01,457.65 247.46,457.43 249.87,457.2 253.02,456.9 256.01,456.57 258.81,456.22 261.43,455.86 263.92,455.51 266.3,455.2 268.63,454.92 271,454.69 273.39,454.5 275.69,454.33 277.91,454.18 280.13,454.05 282.41,453.9 284.83,453.74 287.45,453.6 290.37,453.47 292.49,453.38 294.75,453.29 297.1,453.2 299.53,453.11 302.03,453.04 304.57,452.97 307.14,452.91 309.72,452.87 312.3,452.85 314.84,452.84 317.34,452.86 319.76,452.9 322.19,452.97 324.72,453.09 327.34,453.24 330.02,453.42 332.72,453.62 335.41,453.83 338.05,454.04 340.63,454.24 343.1,454.43 345.44,454.6 347.65,454.73 349.77,454.82 354.37,454.89 357.84,454.76 360.51,454.51 363.29,454.2 367,453.53 369.5,452.91 370.61,452.76 371.89,453.02 374.17,453.76 377.15,454.77 379.54,455.52 382.1,456.41 384.93,457.35 388.02,458.22 391.74,458.83 394.84,459.08 396.76,459.22 398.24,442.78 396.46,442.58 394.18,442.28 391.98,441.78 390.38,441.2 388.08,440.28 385.44,439.2 382.85,438.23 379.68,437.13 376.04,435.98 371.39,435.24 366.72,435.57 363.45,436.32 360.71,436.8 358.76,437 356.78,437.18 354.3,437.26 350.23,437.18 348.61,437.1 346.64,436.97 344.43,436.8 342.04,436.61 339.5,436.39 336.84,436.17 334.1,435.94 331.31,435.72 328.5,435.52 325.7,435.34 322.93,435.2 320.24,435.1 317.6,435.05 314.93,435.01 312.24,435.01 309.54,435.02 306.85,435.05 304.18,435.09 301.55,435.15 298.99,435.22 296.49,435.29 294.09,435.37 291.8,435.45 289.63,435.53 286.6,435.66 283.81,435.79 281.22,435.95 278.75,436.13 276.36,436.39 273.98,436.67 271.57,436.97 269,437.31 266.33,437.7 263.71,438.14 261.18,438.61 258.69,439.08 256.2,439.55 253.66,440 251.01,440.42 248.13,440.8 245.9,441.03 243.52,441.26 241.07,441.48 238.55,441.7 235.97,441.92 233.34,442.12 230.67,442.3 227.96,442.47 225.23,442.63 222.49,442.76 219.74,442.87 217.33,442.95 214.71,443 211.93,443.04 209.05,443.06 206.12,443.07 203.19,443.07 200.31,443.06 197.54,443.05 194.93,443.03 192.52,443.02 190.37,443.01 188.52,443 187.03,443"/>
<polygon points="397.25,391.25 398.83,392.36 401.22,394.06 404.4,396.15 408.04,398.24 410.49,399.49 413.06,400.75 415.84,402.07 418.74,403.39 421.67,404.65 424.58,405.82 427.49,406.86 430.76,407.69 433.84,408.22 436.55,408.54 438.89,408.78 440.91,409.05 442.79,409.43 444.76,410.11 446.95,411.01 449.35,412.08 451.95,413.24 454.76,414.39 457.72,415.41 460.65,416.2 463.44,416.82 466.13,417.33 468.71,417.77 471.17,418.18 473.58,418.62 476,419.08 478.39,419.53 480.77,419.98 483.22,420.43 485.8,420.9 488.55,421.41 490.62,421.82 492.7,422.26 494.9,422.73 497.25,423.23 499.81,423.74 502.6,424.24 505.67,424.73 509.02,425.19 511.31,425.45 513.66,425.69 516.08,425.91 518.59,426.11 521.15,426.31 523.78,426.51 526.46,426.7 529.18,426.91 531.94,427.13 534.71,427.36 537.51,427.61 540.31,427.89 543.12,428.2 545.48,428.48 547.99,428.79 550.62,429.13 553.34,429.49 556.12,429.87 558.94,430.26 561.77,430.66 564.59,431.06 567.38,431.46 570.11,431.86 572.75,432.24 575.29,432.61 577.7,432.96 579.95,433.3 582.02,433.6 583.9,433.87 587.92,434.44 590.84,434.85 592.97,435.16 594.63,435.42 596.27,435.73 598.28,436.16 600.58,436.71 602.89,437.34 605.3,438.04 607.79,438.79 610.36,439.55 612.96,440.28 615.46,440.94 617.86,441.57 620.27,442.2 622.76,442.82 625.39,443.47 628.23,444.15 630.58,444.69 633.09,445.25 635.7,445.82 638.36,446.39 641.01,446.96 643.59,447.52 646.04,448.06 648.34,448.57 651.19,449.19 653.81,449.72 656.19,450.21 658.38,450.7 660.49,451.24 662.58,451.86 664.71,452.63 666.95,453.55 669.34,454.62 671.88,455.75 674.57,456.91 677.37,457.99 680.15,458.92 682.83,459.73 685.41,460.46 687.89,461.14 690.26,461.83 692.56,462.55 694.91,463.38 697.38,464.29 699.92,465.27 702.5,466.25 705.07,467.2 707.58,468.06 710.87,469.11 713.93,470.01 717.02,470.81 720.36,471.57 722.89,472.09 725.52,472.56 728.2,473.01 730.86,473.43 733.45,473.82 735.95,474.18 738.78,474.54 741.44,474.83 743.95,475.08 746.39,475.35 748.9,475.67 751.07,476.02 753.43,476.45 755.96,476.93 758.62,477.42 761.38,477.86 764.2,478.21 766.96,478.44 769.65,478.59 772.3,478.68 774.91,478.73 777.47,478.75 779.98,478.75 782.47,478.76 785.01,478.77 787.64,478.76 790.36,478.68 793.17,478.5 796.07,478.18 798.99,477.68 801.81,477.05 804.49,476.37 807.03,475.67 809.44,475.02 811.75,474.45 814.07,473.95 816.5,473.47 819.03,472.97 821.66,472.43 824.39,471.79 827.19,471.03 830.01,470.14 832.82,469.16 835.58,468.13 838.24,467.09 840.72,466.09 843.05,465.13 846.04,463.81 848.62,462.57 850.96,461.38 853.45,460.14 855.73,459.06 858.12,457.92 860.54,456.76 862.95,455.63 865.32,454.57 867.68,453.58 870.14,452.6 872.76,451.58 875.55,450.45 878.47,449.18 880.96,448 883.5,446.76 886.09,445.47 888.72,444.13 891.36,442.75 894.01,441.31 896.63,439.81 899.14,438.29 901.53,436.79 903.9,435.33 906.31,433.9 908.91,432.47 910.99,431.34 913.29,430.14 915.73,428.9 918.26,427.63 920.84,426.36 923.43,425.08 925.99,423.8 928.47,422.54 930.84,421.31 933.1,420.1 935.29,418.95 937.43,417.84 939.55,416.76 941.68,415.69 943.88,414.63 946.19,413.56 948.42,412.58 950.86,411.54 953.43,410.47 956.07,409.39 958.71,408.33 961.27,407.31 963.69,406.35 965.91,405.47 967.91,404.68 971.2,403.33 973.28,402.45 974.77,401.91 976.98,401.29 979.01,400.79 981.29,400.26 983.62,399.78 985.91,399.39 988.07,399.14 989.98,399.05 991.89,399.14 994.03,399.41 996.33,399.83 998.71,400.33 1001.09,400.87 1003.39,401.38 1006,401.92 1007.72,402.3 1009.43,402.8 1012.25,403.85 1014.14,404.6 1016.38,405.51 1018.83,406.53 1021.39,407.64 1024.01,408.8 1026.61,410 1029.1,411.19 1031.46,412.39 1033.75,413.59 1036,414.77 1038.15,415.93 1040.22,417.09 1042.22,418.3 1044.18,419.58 1046.13,420.96 1048.11,422.51 1049.68,423.85 1051.32,425.35 1053,426.97 1054.72,428.7 1056.45,430.52 1058.19,432.41 1059.94,434.34 1061.69,436.3 1063.44,438.27 1065.15,440.19 1066.78,442.06 1068.38,443.98 1069.99,445.96 1071.61,447.99 1073.24,450.06 1074.89,452.15 1076.56,454.23 1078.26,456.31 1079.99,458.35 1081.78,460.38 1083.8,462.51 1085.82,464.51 1087.8,466.37 1089.72,468.13 1091.55,469.8 1093.29,471.41 1094.93,473 1096.47,474.57 1097.92,476.19 1099.31,477.9 1100.67,479.71 1102.02,481.62 1103.37,483.63 1104.76,485.73 1106.19,487.91 1107.7,490.15 1109.3,492.46 1110.96,494.75 1112.46,496.75 1113.94,498.73 1115.44,500.74 1116.99,502.78 1118.58,504.84 1120.21,506.93 1121.91,509.03 1123.66,511.15 1125.49,513.27 1127.4,515.4 1129.23,517.36 1131.15,519.34 1133.12,521.32 1135.14,523.3 1137.18,525.26 1139.22,527.19 1141.23,529.07 1143.2,530.89 1145.08,532.64 1146.87,534.3 1148.53,535.84 1150.68,537.86 1152.74,539.82 1154.74,541.71 1156.7,543.53 1158.63,545.28 1160.56,546.93 1162.52,548.49 1164.72,550.06 1168.44,552.23 1172.16,553.79 1175.53,554.75 1178.63,555.38 1181.82,555.84 1185.19,555.97 1188.61,555.73 1192.1,555.05 1195.56,553.88 1198.74,552.38 1201.59,550.78 1204.31,549.14 1207.05,547.37 1209.81,545.43 1212.5,543.41 1215.09,541.35 1217.1,539.75 1219.18,538.08 1221.41,536.18 1223.75,533.97 1226.13,531.44 1227.94,529.28 1229.71,527.01 1231.46,524.66 1233.16,522.28 1234.81,519.95 1236.35,517.75 1237.74,515.74 1239.54,513.18 1241.22,510.76 1242.86,508.33 1244.48,505.8 1246.1,503.07 1247.45,500.58 1248.68,498.11 1249.84,495.67 1250.94,493.29 1252.03,490.97 1253.15,488.7 1254.35,486.39 1255.66,483.97 1257.03,481.44 1258.43,478.83 1259.82,476.13 1261.14,473.38 1262.34,470.62 1263.41,467.92 1264.39,465.32 1265.31,462.82 1266.21,460.41 1267.14,458.04 1268.14,455.62 1269.18,453.17 1270.24,450.7 1271.32,448.22 1272.41,445.74 1273.5,443.24 1274.6,440.76 1275.71,438.28 1276.82,435.79 1277.95,433.31 1279.08,430.81 1280.2,428.35 1281.3,425.98 1282.41,423.68 1283.55,421.31 1284.74,418.79 1285.99,416.06 1287.27,413.08 1288.18,410.83 1289.11,408.47 1290.05,406 1291,403.48 1291.95,400.95 1292.87,398.47 1293.76,396.1 1294.6,393.9 1295.37,391.92 1296.44,389.28 1297.43,386.94 1298.38,384.74 1299.32,382.56 1300.27,380.29 1301.25,377.86 1302.22,375.33 1303.17,372.78 1304.1,370.22 1305.01,367.66 1305.91,365.12 1306.81,362.6 1307.7,360.08 1308.58,357.55 1309.46,355.03 1310.32,352.52 1311.18,350 1312.04,347.49 1312.89,344.98 1313.74,342.47 1314.58,339.95 1315.41,337.44 1316.24,334.92 1317.06,332.41 1317.88,329.92 1318.71,327.41 1319.53,324.89 1320.35,322.34 1321.15,319.78 1321.93,317.2 1322.68,314.6 1323.39,312.03 1324.06,309.49 1324.73,307 1325.38,304.54 1326.06,302.11 1326.76,299.67 1327.49,297.21 1328.23,294.72 1328.98,292.2 1329.73,289.66 1330.46,287.09 1331.17,284.53 1331.85,281.99 1332.51,279.47 1333.16,276.97 1333.81,274.5 1334.48,272.04 1335.15,269.6 1335.84,267.15 1336.55,264.68 1337.26,262.18 1337.97,259.62 1338.69,257.01 1339.39,254.33 1340.1,251.6 1340.8,248.85 1341.5,246.12 1342.17,243.46 1342.81,240.9 1343.55,237.99 1344.25,235.19 1344.94,232.45 1345.63,229.69 1346.33,226.85 1346.93,224.39 1347.53,221.9 1348.14,219.37 1348.75,216.83 1349.35,214.29 1349.95,211.76 1350.53,209.25 1351.11,206.74 1351.69,204.22 1352.26,201.7 1352.82,199.17 1353.37,196.64 1353.9,194.18 1354.41,191.78 1354.91,189.38 1355.42,186.91 1355.95,184.31 1356.5,181.5 1356.95,179.24 1357.41,176.85 1357.89,174.38 1358.38,171.83 1358.87,169.23 1359.37,166.61 1359.85,163.98 1360.33,161.37 1360.8,158.72 1361.28,155.98 1361.76,153.2 1362.23,150.42 1362.7,147.7 1363.14,145.07 1363.56,142.58 1363.94,140.29 1364.49,137.05 1364.96,134.22 1365.4,131.59 1365.82,128.97 1366.26,126.17 1366.63,123.67 1366.99,121.14 1367.33,118.63 1367.68,116.15 1368.04,113.71 1368.43,111.33 1368.87,108.98 1369.36,106.58 1369.89,104.11 1370.43,101.57 1370.95,98.97 1371.44,96.3 1371.87,93.57 1372.27,90.8 1372.63,88.07 1372.97,85.49 1373.28,83.15 1373.56,81.18 1374.05,78.16 1374.47,75.88 1374.91,73.47 1375.46,70.76 1376.09,67.61 1376.6,63.85 1376.8,61.21 1376.91,58.67 1376.97,56.04 1377.01,53.22 1377.05,50.1 1377.08,47.77 1377.1,45.07 1377.11,42.17 1377.12,39.21 1377.13,36.36 1377.14,33.78 1377.14,31.61 1377.15,30.03 1361.65,29.97 1361.64,31.57 1361.64,33.74 1361.63,36.32 1361.63,39.16 1361.61,42.1 1361.6,44.97 1361.58,47.62 1361.55,49.9 1361.51,53.01 1361.47,55.75 1361.41,58.17 1361.32,60.33 1361.2,62.15 1360.8,65.06 1360.27,67.68 1359.69,70.53 1359.22,73.08 1358.77,75.54 1358.24,78.82 1357.92,81.04 1357.6,83.47 1357.27,86.05 1356.92,88.68 1356.55,91.26 1356.16,93.7 1355.73,96.03 1355.25,98.43 1354.73,100.89 1354.19,103.42 1353.66,106.02 1353.17,108.67 1352.73,111.31 1352.34,113.93 1351.98,116.5 1351.63,119.01 1351.29,121.45 1350.94,123.83 1350.51,126.53 1350.1,129.09 1349.67,131.67 1349.2,134.48 1348.66,137.71 1348.27,140.01 1347.85,142.5 1347.41,145.12 1346.95,147.83 1346.48,150.58 1346.01,153.33 1345.54,156.03 1345.07,158.63 1344.61,161.18 1344.13,163.77 1343.64,166.36 1343.16,168.92 1342.67,171.44 1342.2,173.9 1341.74,176.26 1341.3,178.5 1340.75,181.27 1340.23,183.83 1339.74,186.24 1339.25,188.59 1338.75,190.94 1338.23,193.36 1337.69,195.83 1337.13,198.3 1336.57,200.78 1336.01,203.26 1335.43,205.75 1334.85,208.24 1334.27,210.73 1333.67,213.24 1333.07,215.75 1332.47,218.25 1331.87,220.72 1331.27,223.15 1330.58,225.97 1329.9,228.7 1329.22,231.42 1328.52,234.19 1327.79,237.1 1327.14,239.67 1326.47,242.32 1325.78,245.03 1325.09,247.73 1324.4,250.41 1323.71,252.99 1323.03,255.5 1322.34,257.97 1321.64,260.44 1320.93,262.92 1320.23,265.42 1319.52,267.96 1318.84,270.5 1318.17,273.03 1317.52,275.53 1316.86,278.01 1316.21,280.47 1315.54,282.91 1314.84,285.34 1314.12,287.8 1313.38,290.28 1312.63,292.79 1311.88,295.33 1311.14,297.89 1310.43,300.46 1309.75,303 1309.09,305.51 1308.43,307.97 1307.76,310.4 1307.07,312.8 1306.34,315.22 1305.57,317.66 1304.78,320.11 1303.98,322.59 1303.16,325.08 1302.34,327.59 1301.52,330.08 1300.7,332.56 1299.87,335.05 1299.04,337.53 1298.2,340.02 1297.36,342.51 1296.51,345 1295.66,347.48 1294.81,349.97 1293.95,352.45 1293.08,354.92 1292.19,357.4 1291.3,359.91 1290.39,362.42 1289.49,364.91 1288.58,367.37 1287.67,369.79 1286.75,372.14 1285.86,374.33 1284.97,376.4 1284.05,378.51 1283.06,380.76 1281.99,383.26 1280.83,386.08 1279.98,388.22 1279.09,390.52 1278.17,392.93 1277.23,395.42 1276.29,397.91 1275.35,400.37 1274.43,402.74 1273.55,404.95 1272.73,406.92 1271.55,409.64 1270.41,412.1 1269.28,414.44 1268.15,416.76 1266.98,419.15 1265.8,421.65 1264.62,424.19 1263.47,426.69 1262.31,429.21 1261.17,431.72 1260.03,434.24 1258.9,436.76 1257.78,439.26 1256.66,441.78 1255.55,444.3 1254.44,446.83 1253.35,449.38 1252.26,451.96 1251.2,454.59 1250.22,457.18 1249.29,459.68 1248.38,462.08 1247.45,464.38 1246.46,466.62 1245.35,468.89 1244.12,471.25 1242.79,473.68 1241.41,476.18 1240.01,478.73 1238.65,481.3 1237.38,483.86 1236.19,486.34 1235.08,488.7 1234.01,490.93 1232.96,493 1231.9,494.93 1230.55,497.16 1229.18,499.27 1227.71,501.4 1226.08,503.7 1224.26,506.26 1222.81,508.33 1221.29,510.53 1219.72,512.78 1218.15,515.01 1216.6,517.11 1215.15,519.01 1213.87,520.56 1212.12,522.45 1210.45,524.05 1208.72,525.54 1206.87,527.06 1204.91,528.65 1202.5,530.59 1200.19,532.37 1197.95,533.98 1195.69,535.46 1193.41,536.87 1191.26,538.11 1189.44,539 1187.9,539.55 1186.44,539.85 1184.93,539.98 1183.32,539.91 1181.37,539.62 1179.3,539.2 1177.46,538.69 1175.67,537.96 1173.28,536.54 1172.19,535.74 1170.77,534.61 1169.21,533.27 1167.52,531.74 1165.7,530.05 1163.75,528.2 1161.67,526.23 1159.47,524.16 1157.75,522.57 1155.95,520.9 1154.08,519.16 1152.15,517.37 1150.19,515.54 1148.23,513.68 1146.28,511.81 1144.38,509.95 1142.55,508.12 1140.82,506.33 1139.2,504.6 1137.52,502.72 1135.88,500.82 1134.29,498.9 1132.74,496.97 1131.21,495.03 1129.71,493.08 1128.23,491.11 1126.75,489.14 1125.27,487.17 1123.84,485.25 1122.34,483.2 1120.93,481.15 1119.52,479.06 1118.12,476.92 1116.67,474.74 1115.18,472.52 1113.6,470.29 1111.91,468.04 1110.08,465.81 1108.16,463.65 1106.2,461.64 1104.24,459.77 1102.31,458.01 1100.42,456.32 1098.58,454.66 1096.81,453.02 1095.1,451.37 1093.42,449.62 1091.92,447.96 1090.37,446.16 1088.8,444.26 1087.19,442.29 1085.56,440.25 1083.89,438.17 1082.19,436.07 1080.44,433.96 1078.65,431.85 1076.85,429.81 1075.07,427.84 1073.29,425.87 1071.47,423.87 1069.61,421.86 1067.73,419.85 1065.82,417.88 1063.88,415.93 1061.92,414.04 1059.93,412.23 1057.89,410.49 1055.4,408.54 1052.91,406.77 1050.46,405.17 1048.03,403.71 1045.64,402.36 1043.28,401.08 1040.94,399.86 1038.54,398.61 1035.96,397.3 1033.21,395.97 1030.4,394.68 1027.61,393.44 1024.89,392.27 1022.3,391.18 1019.93,390.22 1017.75,389.35 1014.4,388.12 1011.66,387.3 1009.23,386.76 1006.61,386.22 1004.49,385.75 1002.03,385.19 999.29,384.61 996.34,384.09 993.23,383.7 990.02,383.55 986.82,383.69 983.72,384.05 980.76,384.55 977.97,385.12 975.41,385.72 973.02,386.31 970.09,387.13 967.59,388.03 965.26,389.02 962.09,390.32 960.21,391.06 957.99,391.94 955.55,392.91 952.94,393.94 950.25,395.03 947.53,396.14 944.84,397.26 942.25,398.36 939.81,399.44 937.27,400.61 934.85,401.78 932.54,402.93 930.32,404.07 928.15,405.19 925.99,406.3 923.8,407.38 921.53,408.46 919.14,409.57 916.62,410.71 914.01,411.89 911.36,413.08 908.71,414.28 906.1,415.49 903.56,416.71 901.09,417.93 898.11,419.58 895.36,421.21 892.84,422.77 890.49,424.23 888.25,425.6 885.99,426.89 883.6,428.18 881.13,429.48 878.66,430.74 876.21,431.96 873.8,433.13 871.53,434.22 868.96,435.44 866.46,436.56 863.92,437.66 861.33,438.81 858.68,440.03 856.06,441.32 853.53,442.62 851.09,443.89 848.78,445.11 846.55,446.26 844,447.53 841.75,448.67 839.57,449.73 836.95,450.87 834.86,451.74 832.51,452.69 830.05,453.65 827.55,454.58 825.11,455.44 822.81,456.17 820.61,456.76 818.34,457.29 815.97,457.78 813.5,458.26 810.93,458.77 808.25,459.35 805.56,460.02 802.97,460.71 800.51,461.38 798.19,461.98 796.01,462.47 793.93,462.82 791.83,463.05 789.64,463.19 787.36,463.26 784.99,463.27 782.53,463.26 780.02,463.25 777.53,463.25 775.09,463.23 772.7,463.19 770.35,463.11 768.04,462.98 765.8,462.79 763.57,462.51 761.24,462.14 758.79,461.69 756.27,461.21 753.7,460.74 751.1,460.33 748.22,459.96 745.56,459.67 743.05,459.42 740.61,459.15 738.05,458.82 735.71,458.48 733.21,458.11 730.68,457.71 728.18,457.3 725.81,456.86 723.64,456.43 720.69,455.75 718.07,455.07 715.41,454.29 712.42,453.34 710.28,452.6 707.95,451.74 705.45,450.78 702.84,449.79 700.16,448.79 697.44,447.85 694.74,446.99 692.11,446.23 689.59,445.53 687.17,444.85 684.85,444.15 682.63,443.41 680.43,442.56 678.12,441.56 675.66,440.46 673.05,439.31 670.29,438.17 667.42,437.14 664.63,436.3 661.99,435.63 659.44,435.06 656.93,434.54 654.39,434.02 651.66,433.43 649.37,432.92 646.88,432.38 644.28,431.81 641.64,431.24 639,430.67 636.44,430.11 634.01,429.57 631.77,429.05 629.03,428.4 626.5,427.78 624.11,427.18 621.77,426.58 619.42,425.96 617.04,425.32 614.64,424.65 612.21,423.94 609.7,423.18 607.11,422.42 604.42,421.69 601.72,421.04 599.33,420.54 597.29,420.15 595.28,419.83 593.01,419.5 590.09,419.1 586.1,418.53 584.26,418.26 582.19,417.96 579.95,417.63 577.54,417.28 574.99,416.9 572.34,416.52 569.59,416.12 566.78,415.72 563.94,415.31 561.07,414.91 558.22,414.51 555.4,414.13 552.63,413.76 549.94,413.42 547.36,413.1 544.88,412.8 541.92,412.47 538.98,412.18 536.06,411.92 533.19,411.68 530.37,411.45 527.61,411.25 524.93,411.05 522.32,410.85 519.81,410.66 517.41,410.46 515.12,410.26 512.97,410.04 510.98,409.81 507.92,409.4 505.2,408.96 502.7,408.51 500.37,408.05 498.14,407.57 495.94,407.1 493.71,406.63 491.45,406.19 488.62,405.66 486.04,405.19 483.6,404.74 481.24,404.3 478.89,403.85 476.42,403.38 473.83,402.91 471.29,402.48 468.87,402.07 466.56,401.64 464.35,401.15 462.28,400.59 460.24,399.89 458.05,398.99 455.65,397.92 453.05,396.76 450.24,395.61 447.21,394.57 444.16,393.72 441.34,393.15 438.83,392.71 436.6,392.3 434.59,391.82 432.51,391.14 430.45,390.4 428.01,389.42 425.42,388.3 422.79,387.1 420.23,385.89 417.87,384.73 415.96,383.76 413.01,382.08 410.53,380.44 408.38,378.9 406.75,377.75"/>
</g>
<path d="M397.5,451 L398.2,451 L398.2,389 L402,384.5" fill="none" stroke="#000" stroke-width="15.2" stroke-linejoin="round" stroke-linecap="round"/>
</g>
<g class="sans" font-size="64" fill="#000">
<text x="677.5" y="209.6" textLength="176.1" lengthAdjust="spacingAndGlyphs">Actual</text>
<text x="1044.5" y="213.5" textLength="282.6" lengthAdjust="spacingAndGlyphs">Estimated</text>
<text x="1361.4" y="252.9" textLength="292.2" lengthAdjust="spacingAndGlyphs">Reference</text>
</g>
<g fill="#000" stroke="#000"><line x1="839.7" y1="233.6" x2="918" y2="350.5" stroke-width="14" stroke-linecap="butt"/><polygon points="943.5,396.5 898.6,361 900,357 903,355 914,353.8 921.5,343.2 937.2,342.6 951.5,394" stroke-width="2" stroke-linejoin="round"/></g>
<g fill="#f00" stroke="#f00"><line x1="1203.5" y1="237.2" x2="1180" y2="395" stroke-width="14.5" stroke-linecap="butt"/><polygon points="1173,433 1160.4,379.6 1172.5,385.5 1186.5,389.5 1199,388.8" stroke-width="8" stroke-linejoin="round"/></g>
<g fill="#00f" stroke="#00f"><line x1="1453.2" y1="287.5" x2="1439.5" y2="390" stroke-width="14.5" stroke-linecap="butt"/><polygon points="1429.8,429.1 1416.4,376.4 1432.5,384 1447,385 1455.3,388" stroke-width="8" stroke-linejoin="round"/></g>
<g class="sans" font-size="64" fill="#000">
<text x="171" y="607.9" text-anchor="end" textLength="68.4" lengthAdjust="spacingAndGlyphs">10</text>
<text x="170.9" y="472" text-anchor="end" textLength="70" lengthAdjust="spacingAndGlyphs">20</text>
<text x="170.9" y="338.6" text-anchor="end" textLength="70" lengthAdjust="spacingAndGlyphs">30</text>
<text x="171.3" y="202" text-anchor="end">40</text>
<text x="170.9" y="67.9" text-anchor="end" textLength="70" lengthAdjust="spacingAndGlyphs">50</text>
<text x="189.2" y="655.5" text-anchor="middle">3</text>
<text x="397.3" y="655.5" text-anchor="middle">4</text>
<text x="611.5" y="655.5" text-anchor="middle">5</text>
<text x="818.7" y="655.5" text-anchor="middle">6</text>
<text x="1032.7" y="655.5" text-anchor="middle">7</text>
<text x="1241.6" y="655.5" text-anchor="middle">8</text>
<text x="1454" y="655.5" text-anchor="middle">9</text>
<text x="1664.1" y="655.5" text-anchor="middle" textLength="68.1" lengthAdjust="spacingAndGlyphs">10</text>
<text x="778.9" y="723.4" textLength="291.7" lengthAdjust="spacingAndGlyphs">Time [sec]</text>
<text transform="translate(65,320.7) rotate(-90)" text-anchor="middle" textLength="368.7" lengthAdjust="spacingAndGlyphs">Speeds [rpm]</text>
</g>
<g class="serif" font-size="75" fill="#000">
<text x="289.3" y="845.5" textLength="82.6" lengthAdjust="spacingAndGlyphs">(<tspan font-weight="bold">a</tspan>)</text>
<text x="389.3" y="845.5" textLength="122.4" lengthAdjust="spacingAndGlyphs">The</text>
<text x="525.4" y="845.5" textLength="410.6" lengthAdjust="spacingAndGlyphs">conventional</text>
<text x="951.3" y="845.5" textLength="217.6" lengthAdjust="spacingAndGlyphs">MRAS</text>
<text x="1180.3" y="845.5" textLength="256.5" lengthAdjust="spacingAndGlyphs">scheme.</text>
</g>
</g>
</svg>
</body></html>
